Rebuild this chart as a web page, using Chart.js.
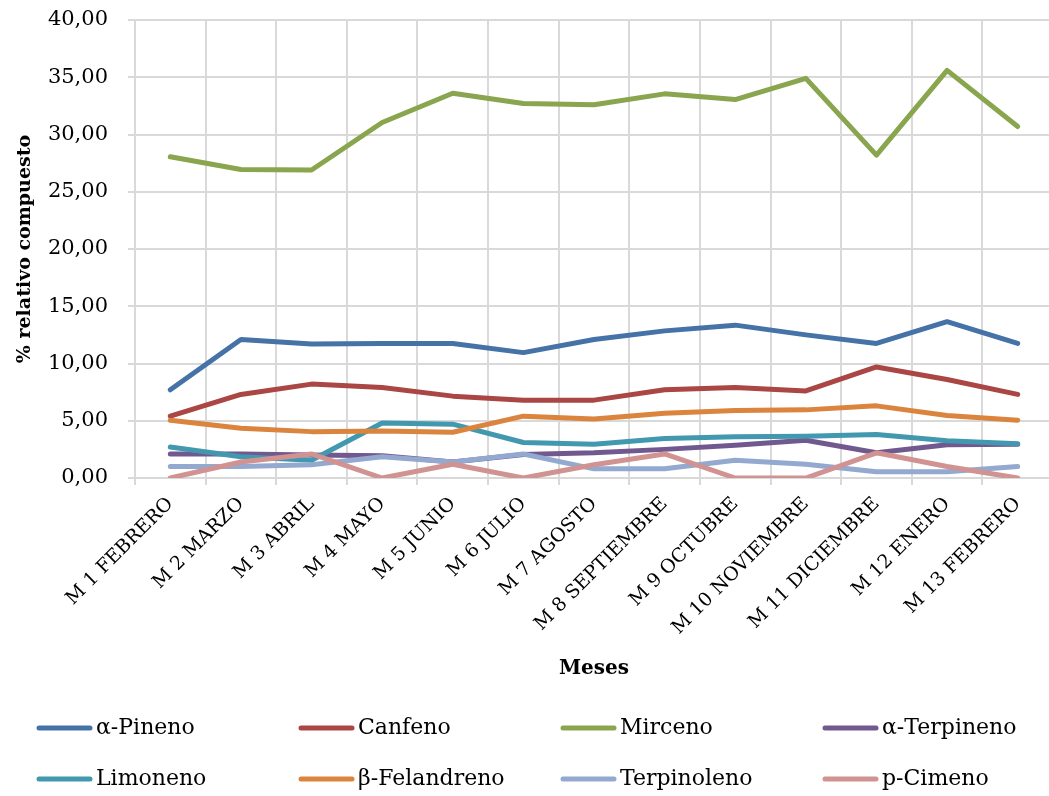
<!DOCTYPE html>
<html>
<head>
<meta charset="utf-8">
<script src="https://cdn.jsdelivr.net/npm/chart.js@4.4.0/dist/chart.umd.min.js"></script>
<style>
  html, body { margin: 0; padding: 0; background: #fff; overflow: hidden; }
  #wrap { width: 1049px; height: 796px; overflow: hidden; position: relative; }
  canvas { display: block; }
</style>
</head>
<body>
<div id="wrap"><canvas id="c" width="1060" height="796"></canvas></div>
<script>
const categories = ['M 1 FEBRERO','M 2 MARZO','M 3 ABRIL','M 4 MAYO','M 5 JUNIO','M 6 JULIO','M 7 AGOSTO','M 8 SEPTIEMBRE','M 9 OCTUBRE','M 10 NOVIEMBRE','M 11 DICIEMBRE','M 12 ENERO','M 13 FEBRERO'];

const alfaPineno    = [7.7, 12.1, 11.7, 11.75, 11.75, 10.95, 12.1, 12.85, 13.35, 12.5, 11.75, 13.65, 11.75];
const canfeno       = [5.4, 7.3, 8.2, 7.9, 7.15, 6.8, 6.8, 7.7, 7.9, 7.6, 9.7, 8.6, 7.3];
const mirceno       = [28.05, 26.95, 26.9, 31.05, 33.6, 32.7, 32.6, 33.55, 33.05, 34.9, 28.2, 35.6, 30.7];
const alfaTerpineno = [2.1, 2.1, 2.0, 1.95, 1.4, 2.05, 2.2, 2.5, 2.85, 3.3, 2.2, 2.9, 2.95];
const limoneno      = [2.7, 1.85, 1.55, 4.8, 4.7, 3.1, 2.95, 3.45, 3.6, 3.65, 3.8, 3.25, 3.0];
const betaFelandreno= [5.05, 4.35, 4.05, 4.1, 4.0, 5.4, 5.15, 5.65, 5.9, 5.95, 6.3, 5.45, 5.05];
const terpinoleno   = [1.0, 1.0, 1.15, 1.85, 1.4, 2.1, 0.8, 0.8, 1.55, 1.2, 0.55, 0.55, 1.0];
const pCimeno       = [0, 1.4, 2.1, 0, 1.2, 0, 1.15, 2.1, 0, 0, 2.2, 1.0, 0];

const seriesNames = ['α-Pineno','Canfeno','Mirceno','α-Terpineno','Limoneno','β-Felandreno','Terpinoleno','p-Cimeno'];
const seriesData  = [alfaPineno, canfeno, mirceno, alfaTerpineno, limoneno, betaFelandreno, terpinoleno, pCimeno];
const seriesColors = ['#4572A7','#AA4643','#89A54E','#71588F','#4198AF','#DB843D','#93A9CF','#D19392'];

const yTicks = { min: 0, max: 40, step: 5 };

const gridColor = '#d9d9d9';
const serif = '"DejaVu Serif", "Liberation Serif", serif';

const legendGrid = {
  id: 'legendGrid',
  afterDraw(chart) {
    const ctx = chart.ctx;
    const cols = [37, 299, 561, 823];
    const rows = [728, 779];
    chart.data.datasets.forEach((ds, i) => {
      const x = cols[i % 4], y = rows[Math.floor(i / 4)];
      ctx.save();
      ctx.strokeStyle = ds.borderColor;
      ctx.lineWidth = 5;
      ctx.lineCap = 'round';
      ctx.beginPath();
      ctx.moveTo(x + 2, y);
      ctx.lineTo(x + 53, y);
      ctx.stroke();
      ctx.fillStyle = '#000';
      ctx.font = '22px ' + serif;
      ctx.textBaseline = 'middle';
      ctx.textAlign = 'left';
      ctx.fillText(ds.label, x + 59, y);
      ctx.restore();
    });
  }
};

new Chart(document.getElementById('c'), {
  type: 'line',
  data: {
    labels: categories,
    datasets: seriesNames.map((name, i) => ({
      label: name,
      data: seriesData[i],
      borderColor: seriesColors[i],
      backgroundColor: seriesColors[i],
      borderWidth: 5,
      borderCapStyle: 'round',
      borderJoinStyle: 'round',
      pointRadius: 0,
      pointHoverRadius: 0,
      tension: 0,
      fill: false,
      order: seriesNames.length - i
    }))
  },
  options: {
    responsive: false,
    animation: false,
    events: [],
    layout: { padding: { top: 20, right: 7, bottom: 110, left: 0 } },
    plugins: {
      legend: { display: false },
      tooltip: { enabled: false },
      title: { display: false }
    },
    scales: {
      x: {
        offset: true,
        grid: { offset: true, color: gridColor, lineWidth: 2, tickLength: 7, drawTicks: true },
        border: { color: gridColor, width: 2 },
        ticks: {
          autoSkip: false,
          minRotation: 45,
          maxRotation: 45,
          padding: 8,
          color: '#000',
          font: { family: serif, size: 19 }
        },
        title: {
          display: true,
          text: 'Meses',
          color: '#000',
          font: { family: serif, size: 20, weight: 'bold' },
          padding: { top: 4, bottom: 5 }
        },
        afterFit(scale) { scale.height = 208; }
      },
      y: {
        min: yTicks.min,
        max: yTicks.max,
        grid: { color: gridColor, lineWidth: 2, tickLength: 7 },
        border: { color: gridColor, width: 2 },
        ticks: {
          stepSize: yTicks.step,
          padding: 20,
          color: '#000',
          font: { family: serif, size: 21 },
          callback: v => v.toFixed(2).replace('.', ',')
        },
        title: {
          display: true,
          text: '% relativo compuesto',
          color: '#000',
          font: { family: serif, size: 19, weight: 'bold' },
          padding: { top: 14, bottom: 0 }
        },
        afterFit(scale) {
          scale.width = 135;
          scale.paddingTop = 0;
          scale.paddingBottom = 0;
        }
      }
    }
  },
  plugins: [legendGrid]
});
</script>
</body>
</html>
